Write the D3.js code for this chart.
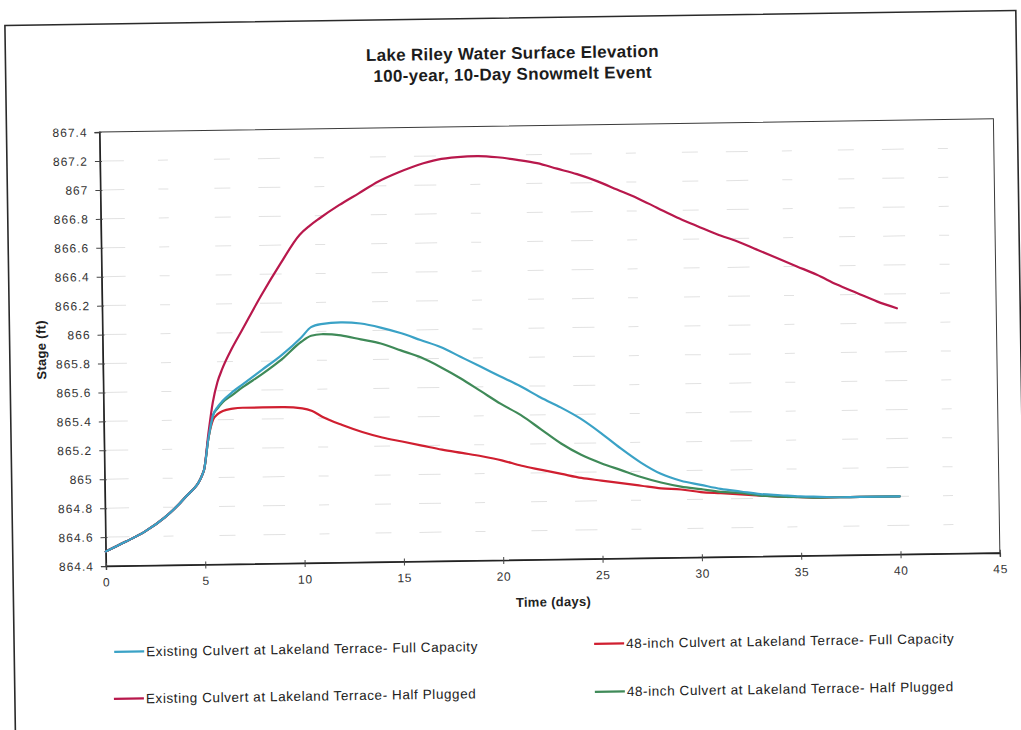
<!DOCTYPE html>
<html>
<head>
<meta charset="utf-8">
<script src="https://cdn.jsdelivr.net/npm/d3@7"></script>
<style>
  html, body { margin: 0; padding: 0; background: #ffffff; }
  svg { display: block; font-family: "Liberation Sans", Arial, sans-serif; }
</style>
</head>
<body>
<svg id="chart" width="1021" height="730"></svg>
<script>
// Chart text
const titleLines = ["Lake Riley Water Surface Elevation", "100-year, 10-Day Snowmelt Event"];
const xTitle = "Time (days)";
const yTitle = "Stage (ft)";

// Time axis (days) shared by every series
const days = [0, 1, 2, 3, 4, 5, 5.25, 5.5, 5.75, 6, 6.5, 7, 8, 9, 10, 10.5,
  11, 12, 13, 14, 15, 16, 17, 18, 19, 20, 21, 22, 23, 24, 25,
  26, 27, 28, 29, 30, 31, 32, 33, 34, 35, 36, 37, 38, 39, 40];

// Lake stage (ft) for each culvert scenario
const existingFull = [864.50, 864.565, 864.635, 864.73, 864.86, 865.05, 865.27, 865.43, 865.49, 865.53, 865.59, 865.64, 865.74, 865.84, 865.96, 866.03,
  866.05, 866.06, 866.05, 866.02, 865.98, 865.93, 865.88, 865.81, 865.74, 865.67, 865.60, 865.52, 865.45, 865.37, 865.27,
  865.16, 865.06, 864.98, 864.93, 864.90, 864.87, 864.85, 864.83, 864.82, 864.81, 864.805, 864.80, 864.80, 864.80, 864.80];

const existingHalf = [864.50, 864.565, 864.635, 864.73, 864.86, 865.05, 865.30, 865.52, 865.66, 865.75, 865.89, 866.01, 866.25, 866.47, 866.67, 866.73,
  866.78, 866.87, 866.95, 867.03, 867.09, 867.14, 867.175, 867.19, 867.195, 867.185, 867.165, 867.14, 867.10, 867.06, 867.01,
  866.95, 866.89, 866.82, 866.75, 866.69, 866.63, 866.58, 866.52, 866.46, 866.40, 866.34, 866.27, 866.21, 866.15, 866.10];

const culvert48Full = [864.50, 864.565, 864.635, 864.73, 864.86, 865.05, 865.27, 865.40, 865.44, 865.46, 865.475, 865.48, 865.48, 865.48, 865.47, 865.45,
  865.41, 865.35, 865.30, 865.26, 865.23, 865.20, 865.17, 865.145, 865.12, 865.09, 865.05, 865.02, 864.99, 864.96, 864.94,
  864.92, 864.90, 864.88, 864.87, 864.85, 864.84, 864.83, 864.82, 864.81, 864.805, 864.80, 864.80, 864.80, 864.80, 864.80];

const culvert48Half = [864.50, 864.565, 864.635, 864.73, 864.86, 865.05, 865.27, 865.43, 865.48, 865.52, 865.57, 865.62, 865.71, 865.81, 865.93, 865.97,
  865.98, 865.97, 865.94, 865.91, 865.86, 865.81, 865.74, 865.66, 865.57, 865.48, 865.40, 865.30, 865.20, 865.12, 865.06,
  865.01, 864.96, 864.92, 864.89, 864.87, 864.85, 864.84, 864.82, 864.81, 864.805, 864.80, 864.80, 864.80, 864.80, 864.80];

const seriesNames = [
  "Existing Culvert at Lakeland Terrace- Full Capacity",
  "48-inch Culvert at Lakeland Terrace- Full Capacity",
  "Existing Culvert at Lakeland Terrace- Half Plugged",
  "48-inch Culvert at Lakeland Terrace- Half Plugged"
];
const seriesColors = ["#3aa2c6", "#d01f30", "#b8184c", "#3f8a58"];

// Axis ticks
const xTicks = [0, 5, 10, 15, 20, 25, 30, 35, 40, 45];
const yTicks = [864.4, 864.6, 864.8, 865, 865.2, 865.4, 865.6, 865.8, 866, 866.2, 866.4, 866.6, 866.8, 867, 867.2, 867.4];

const series = [
  { name: seriesNames[0], color: seriesColors[0], values: existingFull },
  { name: seriesNames[1], color: seriesColors[1], values: culvert48Full },
  { name: seriesNames[2], color: seriesColors[2], values: existingHalf },
  { name: seriesNames[3], color: seriesColors[3], values: culvert48Half }
];

// ---------------------------------------------------------------
const plot = { left: 103, top: 126, right: 997, bottom: 560 };

const svg = d3.select("#chart");
// the printed page sits slightly skewed
const page = svg.append("g").attr("transform", "rotate(-0.85 510 365)");

// outer chart frame
page.append("rect")
  .attr("x", 10).attr("y", 18).attr("width", 1011).attr("height", 800)
  .attr("fill", "#ffffff").attr("stroke", "#2a2a2a").attr("stroke-width", 1.6);

// title
const title = page.append("text")
  .attr("text-anchor", "middle")
  .attr("font-size", 17).attr("font-weight", "bold")
  .attr("letter-spacing", 0.3)
  .attr("fill", "#1c1c1c");
title.selectAll("tspan").data(titleLines).join("tspan")
  .attr("x", 517).attr("y", (d, i) => 59 + i * 21)
  .text(d => d);

const x = d3.scaleLinear().domain([0, 45]).range([plot.left, plot.right]);
const y = d3.scaleLinear().domain([864.4, 867.4]).range([plot.bottom, plot.top]);

// faint horizontal grid
page.append("g").selectAll("line")
  .data(yTicks.slice(1, -1)).join("line")
  .attr("x1", plot.left + 2).attr("x2", plot.right - 2)
  .attr("y1", d => y(d)).attr("y2", d => y(d))
  .attr("stroke", "#e2e2e2").attr("stroke-width", 1)
  .attr("stroke-dasharray", "22,34,10,46,16,28");

// plot area border
page.append("rect")
  .attr("x", plot.left).attr("y", plot.top)
  .attr("width", plot.right - plot.left).attr("height", plot.bottom - plot.top)
  .attr("fill", "none").attr("stroke", "#3a3a3a").attr("stroke-width", 1);

const fmt = v => String(+v.toFixed(1));

// y axis
const yAxis = page.append("g")
  .attr("transform", `translate(${plot.left},0)`)
  .call(d3.axisLeft(y).tickValues(yTicks).tickFormat(fmt).tickSize(5).tickPadding(7));
yAxis.select(".domain").attr("stroke", "#222").attr("stroke-width", 1.4);
yAxis.selectAll(".tick line").attr("stroke", "#444").attr("x2", -5).attr("x1", 2);
yAxis.selectAll(".tick text")
  .attr("font-size", 12).attr("letter-spacing", 1)
  .attr("font-family", "\"Liberation Sans\", Arial, sans-serif")
  .attr("fill", "#333");

// x axis
const xAxis = page.append("g")
  .attr("transform", `translate(0,${plot.bottom})`)
  .call(d3.axisBottom(x).tickValues(xTicks).tickFormat(d3.format("d")).tickSize(4).tickPadding(8));
xAxis.select(".domain").attr("stroke", "#222").attr("stroke-width", 1.4);
xAxis.selectAll(".tick line").attr("stroke", "#444").attr("y1", -3).attr("y2", 4);
xAxis.selectAll(".tick text")
  .attr("font-size", 12).attr("letter-spacing", 0.6)
  .attr("font-family", "\"Liberation Sans\", Arial, sans-serif")
  .attr("fill", "#333");

// axis titles
page.append("text")
  .attr("x", (plot.left + plot.right) / 2).attr("y", 607)
  .attr("text-anchor", "middle")
  .attr("font-size", 13).attr("font-weight", "bold").attr("letter-spacing", 0.3)
  .attr("fill", "#222")
  .text(xTitle);

page.append("text")
  .attr("transform", `translate(46,${(plot.top + plot.bottom) / 2}) rotate(-90)`)
  .attr("text-anchor", "middle")
  .attr("font-size", 13).attr("font-weight", "bold").attr("letter-spacing", 0.3)
  .attr("fill", "#222")
  .text(yTitle);

// series lines
const line = d3.line()
  .x((d, i) => x(days[i]))
  .y(d => y(d))
  .curve(d3.curveMonotoneX);

const drawOrder = [1, 3, 2, 0];
page.append("g").selectAll("path")
  .data(drawOrder.map(i => series[i])).join("path")
  .attr("d", d => line(d.values))
  .attr("fill", "none")
  .attr("stroke", d => d.color)
  .attr("stroke-width", 2.2)
  .attr("stroke-linejoin", "round")
  .attr("stroke-linecap", "round");

// legend, two columns
const legendPos = [
  { x: 110, y: 646 },
  { x: 590, y: 645 },
  { x: 109, y: 693 },
  { x: 590, y: 693 }
];
const legend = page.append("g").selectAll("g")
  .data(series).join("g")
  .attr("transform", (d, i) => `translate(${legendPos[i].x},${legendPos[i].y})`);
legend.append("line")
  .attr("x1", 0).attr("x2", 30).attr("y1", 0).attr("y2", 0)
  .attr("stroke", d => d.color).attr("stroke-width", 2.2);
legend.append("text")
  .attr("x", 32).attr("y", 0).attr("dy", "0.35em")
  .attr("font-size", 13.5).attr("letter-spacing", 0.58)
  .attr("fill", "#222")
  .text(d => d.name);
</script>
</body>
</html>
